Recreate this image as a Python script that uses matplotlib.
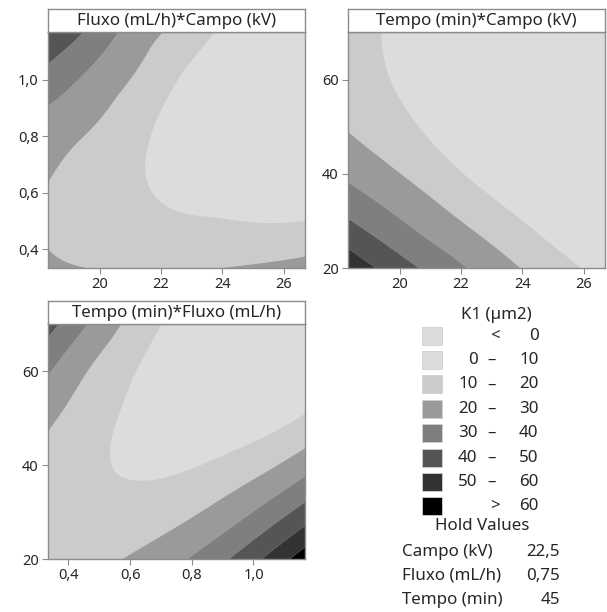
import numpy as np
import matplotlib
matplotlib.use("Agg")
import matplotlib.pyplot as plt
import matplotlib.tri as mtri
from matplotlib.patches import Rectangle

plt.rcParams['font.family'] = ['Noto Sans', 'DejaVu Sans']

# ---- data: K1 values on a 7 x 7 grid per panel ----
campo = [18.3, 19.7, 21.1, 22.5, 23.9, 25.3, 26.7]          # kV
fluxo = [0.333, 0.472, 0.611, 0.75, 0.889, 1.028, 1.167]    # mL/h
tempo = [20.0, 28.3, 36.7, 45.0, 53.3, 61.7, 70.0]          # min

# rows: fluxo ascending, cols: campo ascending (Tempo held at 45)
k1_fluxo_campo = [
    [21.36, 19.96, 19.24, 19.26, 20.01, 21.49, 23.70],
    [19.13, 15.90, 14.00, 12.25, 11.83, 11.30, 12.03],
    [19.65, 15.30, 11.50, 8.14, 6.17, 4.15, 3.12],
    [22.96, 17.40, 11.80, 6.61, 3.07, -0.38, -3.00],
    [29.04, 22.80, 14.90, 7.66, 2.51, -2.25, -6.34],
    [37.92, 29.20, 20.50, 11.29, 4.51, -1.45, -6.91],
    [49.56, 37.90, 26.10, 17.50, 9.07, 1.60, -4.70],
]
# rows: tempo ascending, cols: campo ascending (Fluxo held at 0.75)
k1_tempo_campo = [
    [57.30, 46.50, 37.00, 28.20, 20.20, 13.05, 6.50],
    [43.40, 34.55, 26.48, 19.22, 12.21, 5.19, -1.80],
    [31.87, 24.86, 18.00, 10.97, 3.97, -3.00, -10.00],
    [23.18, 17.18, 10.90, 4.30, -2.40, -9.00, -15.70],
    [17.29, 12.06, 6.75, 1.40, -3.90, -9.20, -14.60],
    [14.20, 9.64, 4.96, 0.30, -4.40, -9.00, -13.70],
    [13.91, 8.90, 3.90, -1.10, -6.10, -11.00, -16.00],
]
# rows: tempo ascending, cols: fluxo ascending (Campo held at 22.5)
k1_tempo_fluxo = [
    [17.11, 17.65, 21.30, 27.83, 37.47, 50.17, 65.90],
    [14.99, 13.20, 14.56, 18.50, 25.40, 35.20, 47.60],
    [15.51, 11.50, 10.04, 11.00, 15.20, 22.00, 31.70],
    [18.69, 12.30, 8.03, 6.11, 7.30, 10.90, 17.90],
    [24.53, 15.40, 8.46, 3.81, 3.20, 3.30, 7.43],
    [33.01, 20.60, 11.33, 4.10, 1.20, -1.00, 0.37],
    [44.15, 29.10, 16.69, 7.00, 0.55, -3.18, -3.40],
]

levels = [-1000, 0, 10, 20, 30, 40, 50, 60, 1000]
level_labels = [("<", "", "0"), ("0", "\u2013", "10"), ("10", "\u2013", "20"),
                ("20", "\u2013", "30"), ("30", "\u2013", "40"), ("40", "\u2013", "50"),
                ("50", "\u2013", "60"), (">", "", "60")]
colors = ['#dcdcdc', '#dcdcdc', '#cbcbcb', '#9a9a9a', '#7f7f7f', '#555555', '#333333', '#000000']

hold_names = ["Campo (kV)", "Fluxo (mL/h)", "Tempo (min)"]
hold_values = ["22,5", "0,75", "45"]

W, H = 607, 612
fig = plt.figure(figsize=(W / 100, H / 100), dpi=100)
frame_col = '#8c8c8c'
text_col = '#262626'
LEG_FS = 12.2


def px_axes(x0, y0, x1, y1):
    return fig.add_axes([x0 / W, 1 - y1 / H, (x1 - x0) / W, (y1 - y0) / H])


def comma(v, dec):
    return f"{v:.{dec}f}".replace('.', ',')


def panel(box, xs, ys, z, title, xlim, ylim, xticks, yticks, xdec, ydec):
    x0, y0, x1, y1 = box
    ax = px_axes(x0, y0, x1, y1)
    ax.set_facecolor(colors[1])
    X, Y = np.meshgrid(np.array(xs, float), np.array(ys, float))
    Z = np.array(z, float)
    # normalised coordinates give a well-shaped triangulation
    xn = (X - xlim[0]) / (xlim[1] - xlim[0])
    yn = (Y - ylim[0]) / (ylim[1] - ylim[0])
    tri = mtri.Triangulation(xn.ravel(), yn.ravel())
    interp = mtri.CubicTriInterpolator(tri, Z.ravel(), kind='min_E')
    refiner = mtri.UniformTriRefiner(tri)
    tri_f, z_f = refiner.refine_field(Z.ravel(), triinterpolator=interp, subdiv=4)
    tri_real = mtri.Triangulation(tri_f.x * (xlim[1] - xlim[0]) + xlim[0],
                                  tri_f.y * (ylim[1] - ylim[0]) + ylim[0],
                                  tri_f.triangles)
    ax.tricontourf(tri_real, z_f, levels=levels, colors=colors, antialiased=True)
    ax.set_xlim(*xlim)
    ax.set_ylim(*ylim)
    ax.set_xticks(xticks)
    ax.set_yticks(yticks)
    ax.set_xticklabels([comma(v, xdec) for v in xticks])
    ax.set_yticklabels([comma(v, ydec) for v in yticks])
    ax.tick_params(direction='out', length=4, width=0.8, color=frame_col,
                   labelsize=10.5, labelcolor=text_col, pad=2.5)
    for s in ax.spines.values():
        s.set_color(frame_col)
        s.set_linewidth(1.0)
    # title strip
    tax = px_axes(x0, y0 - 23, x1, y0)
    tax.set_xticks([])
    tax.set_yticks([])
    tax.set_facecolor('white')
    for s in tax.spines.values():
        s.set_color(frame_col)
        s.set_linewidth(1.0)
    tax.text(0.5, 0.47, title, ha='center', va='center', fontsize=12.2,
             color=text_col, transform=tax.transAxes)
    return ax


panel((47.7, 32.3, 305, 268.3), campo, fluxo, k1_fluxo_campo,
      "Fluxo (mL/h)*Campo (kV)", (18.3, 26.7), (0.333, 1.167),
      [20, 22, 24, 26], [0.4, 0.6, 0.8, 1.0], 0, 1)
panel((347.7, 32.3, 605, 268.3), campo, tempo, k1_tempo_campo,
      "Tempo (min)*Campo (kV)", (18.3, 26.7), (20, 70),
      [20, 22, 24, 26], [20, 40, 60], 0, 0)
panel((47.7, 324.3, 305, 559.3), fluxo, tempo, k1_tempo_fluxo,
      "Tempo (min)*Fluxo (mL/h)", (0.333, 1.167), (20, 70),
      [0.4, 0.6, 0.8, 1.0], [20, 40, 60], 1, 0)


# ---- legend ----
def fx(x):
    return x / W


def fy(y):
    return 1 - y / H


fig.text(fx(496.7), fy(315), "K1 (\u00b5m2)", ha='center', va='center',
         fontsize=LEG_FS, color=text_col)
for i, (lab, col) in enumerate(zip(level_labels, colors)):
    yc = 335.8 + i * 24.34
    fig.patches.append(Rectangle((fx(422.3), fy(yc + 9)), 20 / W, 18 / H,
                                 transform=fig.transFigure, facecolor=col,
                                 edgecolor='#d0d0d0', linewidth=0.6))
    a, dash, b = lab
    if dash:
        fig.text(fx(477.5), fy(yc), a, ha='right', va='center', fontsize=LEG_FS, color=text_col)
        fig.text(fx(492), fy(yc), dash, ha='center', va='center', fontsize=LEG_FS, color=text_col)
    else:
        fig.text(fx(495), fy(yc), a, ha='center', va='center', fontsize=LEG_FS, color=text_col)
    fig.text(fx(538.5), fy(yc), b, ha='right', va='center', fontsize=LEG_FS, color=text_col)

fig.text(fx(481.7), fy(526.5), "Hold Values", ha='center', va='center',
         fontsize=LEG_FS, color=text_col)
for i, (n, v) in enumerate(zip(hold_names, hold_values)):
    yc = 551.7 + i * 24.2
    fig.text(fx(402.5), fy(yc), n, ha='left', va='center', fontsize=LEG_FS, color=text_col)
    fig.text(fx(560), fy(yc), v, ha='right', va='center', fontsize=LEG_FS, color=text_col)

fig.savefig("out.png", dpi=100, facecolor='white')
